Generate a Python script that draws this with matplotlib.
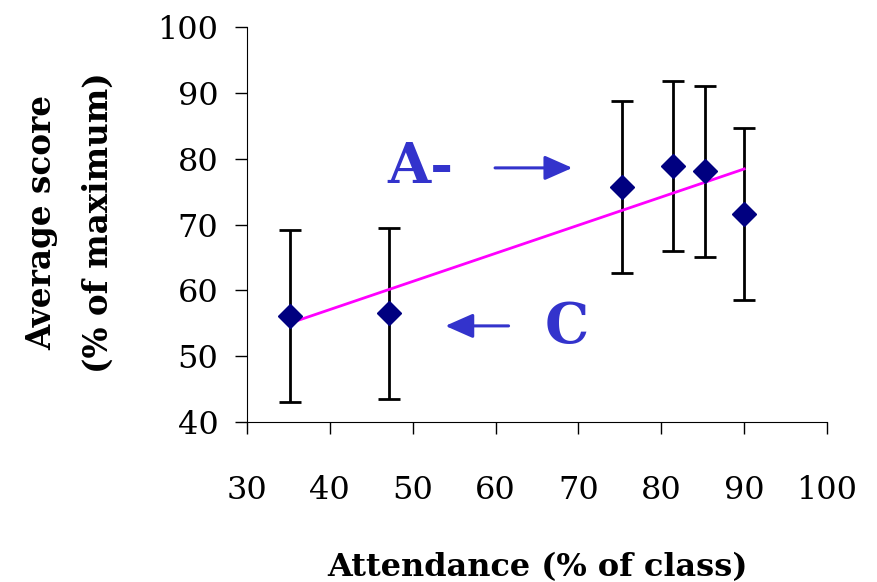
import numpy as np
import matplotlib
matplotlib.use("Agg")
import matplotlib.pyplot as plt

# attendance (% of class) vs. average score (% of max), with spread
attendance = [35.2, 47.1, 75.2, 81.4, 85.3, 90.0]
avg_score = [56.1, 56.5, 75.7, 78.9, 78.1, 71.6]
score_err = [13.0, 13.0, 13.0, 12.9, 13.0, 13.0]

x_ticks = [30, 40, 50, 60, 70, 80, 90, 100]
y_ticks = [40, 50, 60, 70, 80, 90, 100]

plt.rcParams["font.family"] = ["DejaVu Serif"]

fig = plt.figure(figsize=(8.78, 5.82), dpi=100)
ax = fig.add_axes([0.2813, 0.2749, 0.6607, 0.6787])

ax.errorbar(attendance, avg_score, yerr=score_err, fmt="none",
            ecolor="black", elinewidth=2.0, capsize=8, capthick=2.0, zorder=2)

# linear trend line through the points
slope, icpt = np.polyfit(attendance, avg_score, 1)
xs = np.array([min(attendance), max(attendance)])
ax.plot(xs, slope * xs + icpt, color="#FF00FF", lw=2.0, zorder=3)

ax.plot(attendance, avg_score, "D", color="#000080", ms=12, mec="#000080", zorder=4)

blue = "#3333CC"
arrow_style = dict(arrowstyle="-|>,head_length=1.7,head_width=0.75",
                   color=blue, lw=2.2)
ax.text(50.9, 78.6, "A-", color=blue, fontsize=40, fontweight="bold",
        ha="center", va="center")
ax.annotate("", xy=(69.6, 78.6), xytext=(59.6, 78.6), arrowprops=arrow_style)
ax.text(68.6, 54.3, "C", color=blue, fontsize=40, fontweight="bold",
        ha="center", va="center")
ax.annotate("", xy=(53.6, 54.6), xytext=(61.9, 54.6), arrowprops=arrow_style)

ax.set_xlim(30, 100)
ax.set_ylim(40, 100)
ax.set_xticks(x_ticks)
ax.set_yticks(y_ticks)
ax.spines["top"].set_visible(False)
ax.spines["right"].set_visible(False)
ax.tick_params(axis="both", direction="out", length=8.5, width=1, labelsize=23)
ax.tick_params(axis="y", pad=12)
ax.tick_params(axis="x", pad=30)

ax.set_xlabel("Attendance (% of class)", fontsize=23, fontweight="bold", labelpad=33)
ax.set_ylabel("Average score\n(% of maximum)", fontsize=23.5, fontweight="bold",
              va="center", linespacing=1.9)
ax.yaxis.set_label_coords(-0.305, 0.505)

fig.savefig("out.png", dpi=100)
